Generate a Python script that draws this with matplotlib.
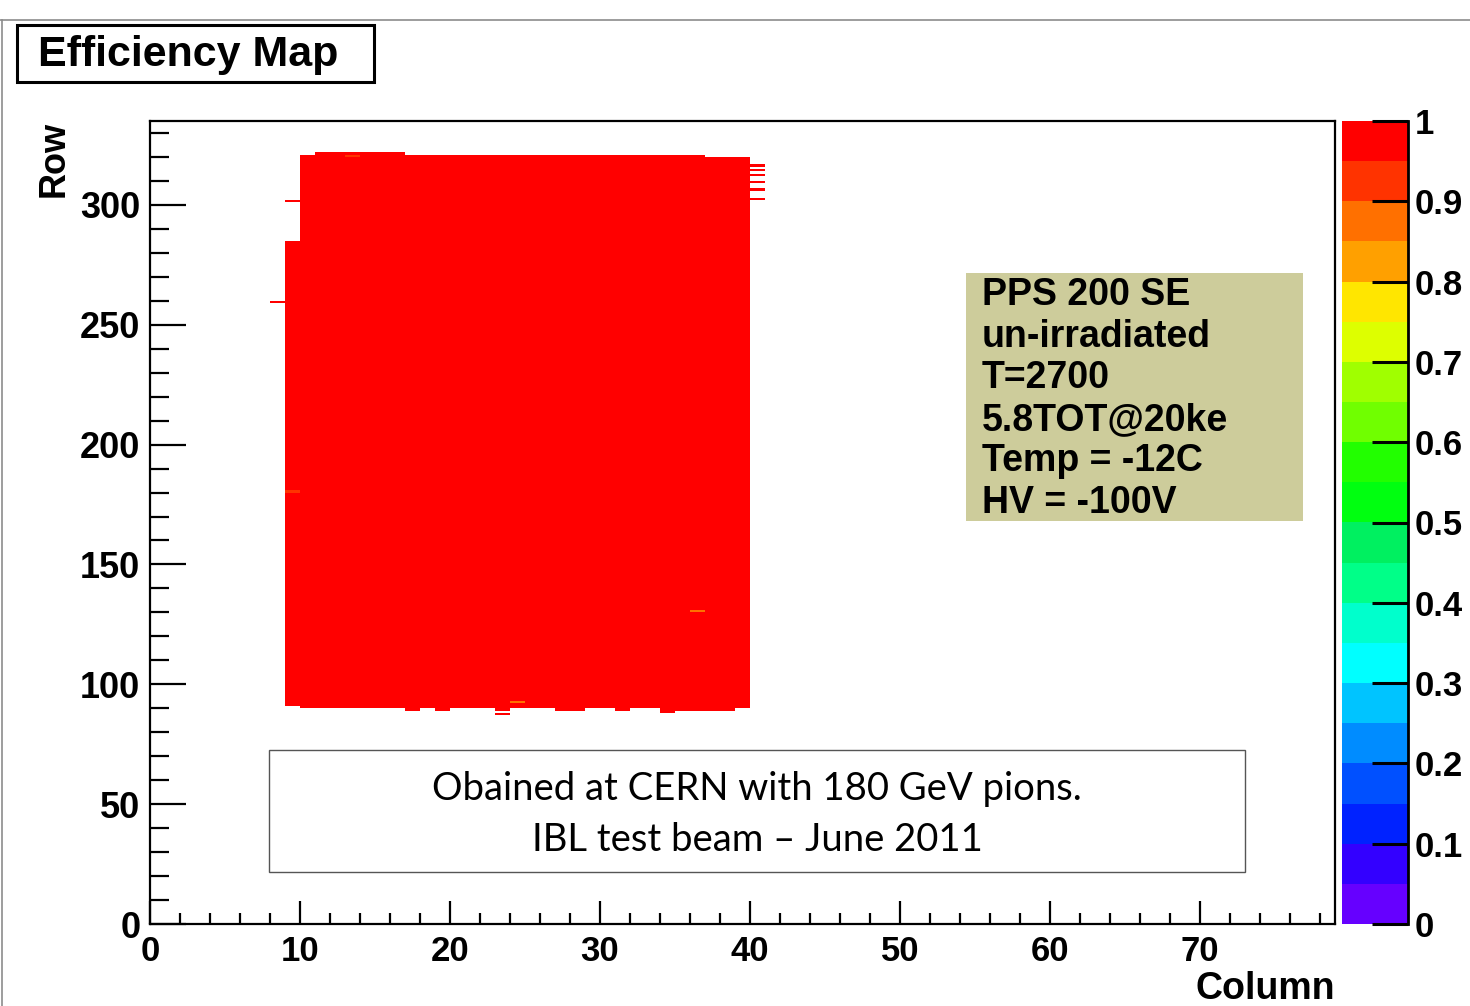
import numpy as np
import matplotlib
matplotlib.use("Agg")
import matplotlib.pyplot as plt
from matplotlib.colors import ListedColormap, BoundaryNorm
from matplotlib.patches import Rectangle
from matplotlib.ticker import MultipleLocator, FormatStrFormatter

plt.rcParams["font.family"] = ["Liberation Sans", "DejaVu Sans"]
plt.rcParams["font.weight"] = "bold"
plt.rcParams["axes.labelweight"] = "bold"

W, H = 1470, 1006

# 20-step rainbow palette, efficiency 0 -> 1
palette = ["#6600ff", "#3300ff", "#0022ff", "#0050ff", "#008cff",
           "#00c4ff", "#00ffff", "#00ffcc", "#00ff88", "#00f060",
           "#00ff10", "#22ff00", "#70ff00", "#a0ff00", "#ddff00",
           "#ffe600", "#ffa000", "#ff7000", "#ff3300", "#ff0000"]
cbar_ticks = [0, 0.1, 0.2, 0.3, 0.4, 0.5, 0.6, 0.7, 0.8, 0.9, 1.0]

n_cols, n_rows = 79, 335

# columns covered by the beam, with lowest / highest efficient row
block_cols = list(range(9, 40))
block_lo = [91, 90, 90, 90, 90, 90, 90, 90, 89, 90, 89, 90, 90, 90, 89, 90,
            90, 90, 89, 89, 90, 90, 89, 90, 90, 88, 89, 89, 89, 89, 90]
block_hi = [284, 320, 321, 321, 321, 321, 321, 321] + [320] * 20 + [319, 319, 319]

# isolated pixels outside the block and the few below full efficiency
hit_col = [40, 40, 40, 40, 40, 40, 8, 9, 23, 13, 9, 36, 24]
hit_row = [316, 314, 312, 309, 306, 302, 259, 301, 87, 320, 180, 130, 92]
hit_eff = [1.0, 1.0, 1.0, 1.0, 1.0, 1.0, 1.0, 1.0, 1.0, 0.93, 0.93, 0.87, 0.87]

stat_lines = ["PPS 200 SE", "un-irradiated", "T=2700", "5.8TOT@20ke",
              "Temp = -12C", "HV = -100V"]
note_lines = ["Obained at CERN with 180 GeV pions.", "IBL test beam \u2013 June 2011"]

eff = np.full((n_rows, n_cols), np.nan)
for c, lo, hi in zip(block_cols, block_lo, block_hi):
    eff[lo:hi + 1, c] = 1.0
for c, r, e in zip(hit_col, hit_row, hit_eff):
    eff[r, c] = e


def box(x0, y0, x1, y1):
    """pixel box (from top-left) -> figure fraction rect"""
    return [x0 / W, 1 - y1 / H, (x1 - x0) / W, (y1 - y0) / H]


fig = plt.figure(figsize=(W / 100, H / 100), dpi=100)

# slide border
fig.add_artist(plt.Line2D([0, 1], [1 - 20 / H, 1 - 20 / H], color="#8c8c8c", lw=1.2))
fig.add_artist(plt.Line2D([2 / W, 2 / W], [0, 1 - 20 / H], color="#8c8c8c", lw=1.2))

ax = fig.add_axes(box(150, 121, 1335, 924))
cmap = ListedColormap(palette)
norm = BoundaryNorm(np.linspace(0, 1, len(palette) + 1), cmap.N, clip=True)
mesh = ax.pcolormesh(np.arange(n_cols + 1), np.arange(n_rows + 1),
                     np.ma.masked_invalid(eff), cmap=cmap, norm=norm,
                     shading="flat", antialiased=False, edgecolors="none")
ax.set_xlim(0, n_cols)
ax.set_ylim(0, n_rows)

ax.xaxis.set_major_locator(MultipleLocator(10))
ax.xaxis.set_minor_locator(MultipleLocator(2))
ax.yaxis.set_major_locator(MultipleLocator(50))
ax.yaxis.set_minor_locator(MultipleLocator(10))
ax.tick_params(axis="both", which="both", direction="in", top=False, right=False,
               width=1.6, color="black")
ax.tick_params(axis="x", which="major", length=16.5, labelsize=25, pad=8)
ax.tick_params(axis="x", which="minor", length=8)
ax.tick_params(axis="y", which="major", length=26, labelsize=26, pad=7)
ax.tick_params(axis="y", which="minor", length=13.5)
for s in ax.spines.values():
    s.set_linewidth(1.6)

ax.set_xlabel("Column", fontsize=27, loc="right")
ax.xaxis.set_label_coords(1.0, -0.059)
ax.set_ylabel("Row", fontsize=26, loc="top")
ax.yaxis.set_label_coords(-0.066, 1.0)

# colour scale
cax = fig.add_axes(box(1342, 121, 1408, 924))
cb = fig.colorbar(mesh, cax=cax, ticks=cbar_ticks)
cb.outline.set_visible(False)
cb.ax.yaxis.set_major_formatter(FormatStrFormatter("%g"))
cax.tick_params(direction="in", length=26, width=2.2, labelsize=25, pad=5)
cax.minorticks_off()
cax.plot([1, 1], [0, 1], transform=cax.transAxes, color="black", lw=2,
         clip_on=False)

# histogram title
fig.add_artist(Rectangle((17 / W, 1 - 82 / H), 357 / W, 57 / H,
                         transform=fig.transFigure, facecolor="white",
                         edgecolor="black", lw=2.2))
fig.text(38 / W, 1 - 66 / H, "Efficiency Map", fontsize=31, va="baseline")

# run conditions
fig.add_artist(Rectangle((966 / W, 1 - 521 / H), 337 / W, 248 / H,
                         transform=fig.transFigure, facecolor="#cdcc9b",
                         edgecolor="none"))
for i, line in enumerate(stat_lines):
    fig.text(982 / W, 1 - (305 + 41.6 * i) / H, line, fontsize=27,
             va="baseline")

# beam note
fig.add_artist(Rectangle((269 / W, 1 - 872 / H), 976 / W, 122 / H,
                         transform=fig.transFigure, facecolor="white",
                         edgecolor="#555555", lw=1))
for i, line in enumerate(note_lines):
    fig.text(757 / W, 1 - (800 + 51 * i) / H, line, fontsize=27.5,
             family=["Lato", "DejaVu Sans"], weight="normal",
             ha="center", va="baseline")

fig.savefig("out.png", dpi=100)
